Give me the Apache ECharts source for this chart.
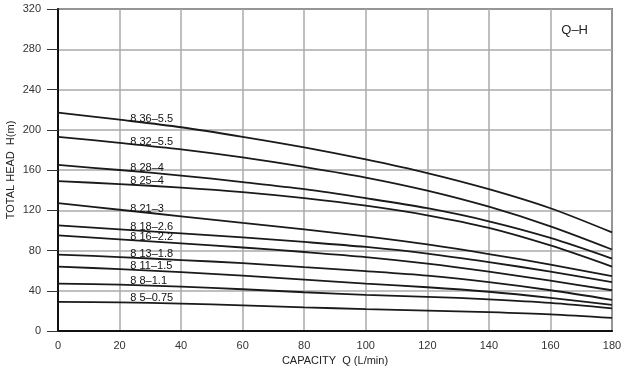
<!DOCTYPE html>
<html>
<head>
<meta charset="utf-8">
<script src="https://cdn.jsdelivr.net/npm/echarts@6/dist/echarts.min.js"></script>
<style>html,body{margin:0;padding:0;background:#fff}#c{width:621px;height:372px}</style>
</head>
<body>
<div id="c"></div>
<script>
var capacity = [0, 20, 40, 60, 80, 100, 120, 140, 160, 180];
var names = ['8 36–5.5', '8 32–5.5', '8 28–4', '8 25–4', '8 21–3', '8 18–2.6', '8 16–2.2', '8 13–1.8', '8 11–1.5', '8 8–1.1', '8 5–0.75'];
var h36 = [217, 210, 202.5, 193, 182.5, 170.5, 157, 141, 122, 98];
var h32 = [193, 187, 180.5, 172.5, 163, 152.5, 139.5, 123.5, 104, 81];
var h28 = [165, 160, 154.5, 148, 141, 132, 122, 109, 92.5, 72];
var h25 = [149, 146, 142.5, 138, 132, 124.5, 115, 102.5, 85, 64];
var h21 = [127, 120.5, 114, 107.5, 101, 94, 86, 76.5, 66, 54.5];
var h18 = [105, 101, 97, 93, 88.5, 83.5, 77, 68.5, 59, 48.5];
var h16 = [95, 91, 87, 83, 78.5, 73.5, 67, 59, 50, 40.5];
var h13 = [76, 73.5, 70.5, 67.5, 63.5, 59.5, 55, 48.5, 40.5, 31];
var h11 = [64, 61.5, 58.5, 55, 51, 47, 43.5, 39, 33, 26];
var h8 = [47, 46, 44, 41.5, 38.5, 36, 34, 31.5, 28, 22.5];
var h5 = [29, 28.5, 27.3, 25.5, 23.5, 21.8, 20.3, 18.7, 16.5, 13];
var yTicks = [0, 40, 80, 120, 160, 200, 240, 280, 320];
var xTicks = [0, 20, 40, 60, 80, 100, 120, 140, 160, 180];

var heads = [h36, h32, h28, h25, h21, h18, h16, h13, h11, h8, h5];
var labelQ = (capacity[1] + capacity[2]) / 2;
var FONT = 'Liberation Sans, Arial, sans-serif';

var series = heads.map(function (h, i) {
  var mid = (h[1] + h[2]) / 2;
  return {
    type: 'line',
    name: names[i],
    data: capacity.map(function (q, j) { return [q, h[j]]; }),
    smooth: 0.3,
    symbol: 'none',
    lineStyle: { color: '#1a1a1a', width: 1.8 },
    silent: true,
    markPoint: {
      symbol: 'circle', symbolSize: 0,
      data: [{ coord: [labelQ, mid] }],
      label: {
        show: true, formatter: names[i], position: 'top', distance: 0,
        align: 'left',
        color: '#111', fontSize: 11, fontFamily: FONT,
        offset: [-20, 1]
      }
    }
  };
});

var chart = echarts.init(document.getElementById('c'));
chart.setOption({
  animation: false,
  backgroundColor: '#fff',
  title: {
    text: 'Q–H', right: 28, top: 19,
    textStyle: { fontSize: 13, fontWeight: 'normal', color: '#222', fontFamily: FONT }
  },
  grid: { left: 58, right: 9, top: 9, bottom: 41, show: true, borderColor: '#222', borderWidth: 1.5, containLabel: false, outerBoundsMode: 'none' },
  xAxis: {
    type: 'value', min: xTicks[0], max: xTicks[xTicks.length - 1], interval: 20,
    name: 'CAPACITY  Q (L/min)', nameLocation: 'middle', nameGap: 24, nameMoveOverlap: false,
    nameTextStyle: { fontSize: 11, color: '#222', fontFamily: FONT },
    axisLine: { lineStyle: { color: '#111', width: 2 } },
    axisTick: { show: false },
    axisLabel: { margin: 9, fontSize: 11, color: '#333', fontFamily: FONT },
    splitLine: { show: true, lineStyle: { color: '#aaa', width: 1.5 } }
  },
  yAxis: {
    type: 'value', min: yTicks[0], max: yTicks[yTicks.length - 1], interval: 40,
    name: 'TOTAL HEAD  H(m)', nameLocation: 'middle', nameGap: 42, nameRotate: 90, nameMoveOverlap: false,
    nameTextStyle: { fontSize: 11, color: '#222', fontFamily: FONT },
    axisLine: { show: true, lineStyle: { color: '#111', width: 2 } },
    axisTick: { show: true, length: 11, lineStyle: { color: '#333', width: 1 } },
    axisLabel: { margin: 17, fontSize: 11, color: '#333', fontFamily: FONT },
    splitLine: { show: true, lineStyle: { color: '#aaa', width: 1.5 } }
  },
  series: series
});
</script>
</body>
</html>
